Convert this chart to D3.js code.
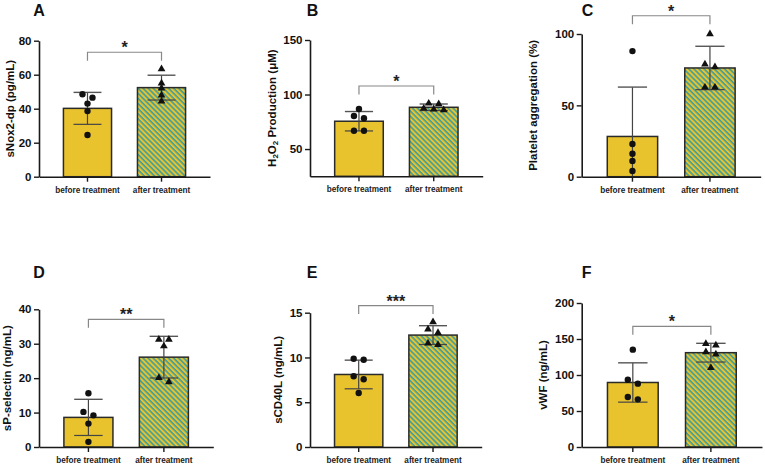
<!DOCTYPE html>
<html>
<head>
<meta charset="utf-8">
<script src="https://cdn.jsdelivr.net/npm/d3@7"></script>
<style>
  body { margin: 0; background: #fff; }
  svg { display: block; font-family: Arial, "Liberation Sans", sans-serif; }
</style>
</head>
<body>
<div id="chart"></div>
<script>
// values
const groups = ['before treatment', 'after treatment'];
const panelLetters = ['A', 'B', 'C', 'D', 'E', 'F'];
const yTitles = ['sNox2-dp (pg/mL)', 'H2O2 Production (μM)', 'Platelet aggregation (%)',
  'sP-selectin (ng/mL)', 'sCD40L (ng/mL)', 'vWF (ng/mL)'];
const yDomains = [[0, 80], [25, 150], [0, 100], [0, 40], [0, 15], [0, 200]];
const yTicks = [[0, 20, 40, 60, 80], [50, 100, 150], [0, 50, 100], [0, 10, 20, 30, 40],
  [0, 5, 10, 15], [0, 50, 100, 150, 200]];
const meanValues = [[40.2, 52.4], [75.5, 88.3], [28.2, 76.2], [8.6, 26.1], [8.1, 12.5], [89.6, 131]];
const sdValues = [[9.4, 7.3], [8.9, 3], [34.6, 15.2], [5.25, 6.05], [1.6, 1.05], [27.3, 13]];
const beforePoints = [
  [48.5, 46.5, 43, 38.6, 24.5],
  [86.7, 80.3, 78.2, 66.8, 66.8],
  [88, 22.9, 16.1, 11, 4],
  [15.6, 10.2, 9.2, 6.8, 1.5],
  [9.86, 9.75, 7.9, 7.56, 6.03],
  [135.2, 93.5, 88, 69.4, 66.2]
];
const afterPoints = [
  [63.3, 55, 52, 47.9, 44.4],
  [91.9, 91.3, 87.3, 86.4, 85.8],
  [100, 78.8, 76.9, 62.6, 62.6],
  [31.2, 31.2, 29.3, 20.1, 18.9],
  [13.96, 13.15, 12.77, 11.6, 11.43],
  [143.5, 141.2, 132, 128.8, 110]
];
const bracketLevels = [73.2, 107.8, 112.8, 37.1, 15.8, 167.6];
const sigLabels = ['*', '*', '*', '**', '***', '*'];

// panel placement on the page
const layout = [
  { x0: 39, x1: 210, top: 40.7, bottom: 176.7, titleX: 10, letterX: 33.3, letterY: 15.5 },
  { x0: 310, x1: 482.7, top: 40, bottom: 176.3, titleX: 271.7, letterX: 306.7, letterY: 15.5 },
  { x0: 581.7, x1: 760.7, top: 34, bottom: 176.7, titleX: 533.3, letterX: 581.7, letterY: 15.5 },
  { x0: 39, x1: 213.3, top: 309.3, bottom: 447, titleX: 7, letterX: 33.3, letterY: 278 },
  { x0: 310, x1: 481.7, top: 312.7, bottom: 447, titleX: 278.3, letterX: 306.7, letterY: 278 },
  { x0: 581.7, x1: 762, top: 303, bottom: 447, titleX: 543.3, letterX: 581.7, letterY: 278 }
];

const width = 765;
const height = 465;
const yellow = '#E8C32E';
const teal = '#3E9E9E';

const svg = d3.select('#chart')
  .append('svg')
  .attr('width', width)
  .attr('height', height);

svg.append('rect').attr('width', width).attr('height', height).attr('fill', '#fff');

const pat = svg.append('defs').append('pattern')
  .attr('id', 'hatch')
  .attr('patternUnits', 'userSpaceOnUse')
  .attr('width', 3.6)
  .attr('height', 3.6)
  .attr('patternTransform', 'rotate(45)');
pat.append('rect').attr('width', 3.6).attr('height', 3.6).attr('fill', yellow);
pat.append('rect').attr('width', 3.6).attr('height', 1.6).attr('fill', teal);

// simple row-based scatter spreading, like GraphPad does
function spread(vals, y, cx) {
  const pts = vals.map(v => ({ v, py: y(v) })).sort((a, b) => a.py - b.py);
  const rows = [];
  let cur = null;
  pts.forEach(p => {
    if (cur && p.py - cur[0].py <= 4.6) cur.push(p);
    else { cur = [p]; rows.push(cur); }
  });
  rows.forEach(r => r.forEach((p, i) => { p.px = cx + (i - (r.length - 1) / 2) * 10; }));
  return pts;
}

panelLetters.forEach((letter, k) => {
  const L = layout[k];
  const g = svg.append('g');

  const x = d3.scaleBand()
    .domain(groups)
    .range([L.x0, L.x1])
    .paddingInner(0.35)
    .paddingOuter(0.33);

  const y = d3.scaleLinear()
    .domain(yDomains[k])
    .range([L.bottom, L.top]);

  // bars
  g.selectAll('rect.bar')
    .data(groups)
    .join('rect')
    .attr('class', 'bar')
    .attr('x', d => x(d))
    .attr('width', x.bandwidth())
    .attr('y', (d, i) => y(meanValues[k][i]))
    .attr('height', (d, i) => y(yDomains[k][0]) - y(meanValues[k][i]))
    .attr('fill', (d, i) => i === 0 ? yellow : 'url(#hatch)')
    .attr('stroke', '#2a2a2a')
    .attr('stroke-width', 1.5);

  // error bars (mean ± SD)
  const capW = x.bandwidth() * 0.29;
  groups.forEach((grp, i) => {
    const cx = x(grp) + x.bandwidth() / 2;
    const m = meanValues[k][i], s = sdValues[k][i];
    const lo = Math.max(m - s, yDomains[k][0]);
    const hi = m + s;
    g.append('line')
      .attr('x1', cx).attr('x2', cx)
      .attr('y1', y(lo)).attr('y2', y(hi))
      .attr('stroke', '#444').attr('stroke-width', 1.2);
    g.append('line')
      .attr('x1', cx - capW).attr('x2', cx + capW)
      .attr('y1', y(hi)).attr('y2', y(hi))
      .attr('stroke', '#555').attr('stroke-width', 1.4);
    if (m - s > yDomains[k][0]) {
      g.append('line')
        .attr('x1', cx - capW).attr('x2', cx + capW)
        .attr('y1', y(lo)).attr('y2', y(lo))
        .attr('stroke', '#444').attr('stroke-width', 1.2);
    }
  });

  // individual points
  const cx0 = x(groups[0]) + x.bandwidth() / 2;
  const cx1 = x(groups[1]) + x.bandwidth() / 2;
  g.selectAll('circle.pt')
    .data(spread(beforePoints[k], y, cx0))
    .join('circle')
    .attr('class', 'pt')
    .attr('cx', d => d.px)
    .attr('cy', d => d.py)
    .attr('r', 3.2)
    .attr('fill', '#111');
  g.selectAll('path.pt')
    .data(spread(afterPoints[k], y, cx1))
    .join('path')
    .attr('class', 'pt')
    .attr('transform', d => `translate(${d.px},${d.py})`)
    .attr('d', d3.symbol(d3.symbolTriangle, 26))
    .attr('fill', '#111');

  // axes
  const yAxis = g.append('g')
    .attr('transform', `translate(${L.x0},0)`)
    .call(d3.axisLeft(y).tickValues(yTicks[k]).tickSize(5).tickPadding(2.5).tickSizeOuter(0));
  const xAxis = g.append('g')
    .attr('transform', `translate(0,${L.bottom})`)
    .call(d3.axisBottom(x).tickSize(5).tickPadding(5).tickSizeOuter(0));
  [yAxis, xAxis].forEach(ax => {
    ax.select('.domain').attr('stroke', '#1a1a1a').attr('stroke-width', 1.6);
    ax.selectAll('.tick line').attr('stroke', '#1a1a1a').attr('stroke-width', 1.4);
  });
  yAxis.selectAll('text')
    .attr('font-size', '11.5px').attr('font-weight', 'bold').attr('fill', '#111');
  xAxis.selectAll('text')
    .attr('font-size', '8.2px').attr('font-weight', 'bold').attr('fill', '#222');

  // y title
  const title = g.append('text')
    .attr('transform', `translate(${L.titleX},${(L.top + L.bottom) / 2}) rotate(-90)`)
    .attr('text-anchor', 'middle')
    .attr('dominant-baseline', 'central')
    .attr('font-size', '11.5px')
    .attr('font-weight', 'bold')
    .attr('fill', '#111');
  if (k === 1) {
    title.append('tspan').text('H');
    title.append('tspan').text('2').attr('font-size', '8px').attr('dy', 3);
    title.append('tspan').text('O').attr('dy', -3);
    title.append('tspan').text('2').attr('font-size', '8px').attr('dy', 3);
    title.append('tspan').text(' Production (μM)').attr('dy', -3);
  } else {
    title.text(yTitles[k]);
  }

  // significance bracket
  const by = y(bracketLevels[k]);
  g.append('path')
    .attr('d', `M${cx0},${by + 8.5}V${by}H${cx1}V${by + 8.5}`)
    .attr('fill', 'none')
    .attr('stroke', '#888')
    .attr('stroke-width', 1.2);
  g.append('text')
    .attr('x', (cx0 + cx1) / 2)
    .attr('y', by + 1)
    .attr('text-anchor', 'middle')
    .attr('font-size', '16px')
    .attr('font-weight', 'bold')
    .attr('fill', '#222')
    .text(sigLabels[k]);

  // panel letter
  g.append('text')
    .attr('x', L.letterX)
    .attr('y', L.letterY)
    .attr('font-size', '16px')
    .attr('font-weight', 'bold')
    .attr('fill', '#111')
    .text(letter);
});
</script>
</body>
</html>
